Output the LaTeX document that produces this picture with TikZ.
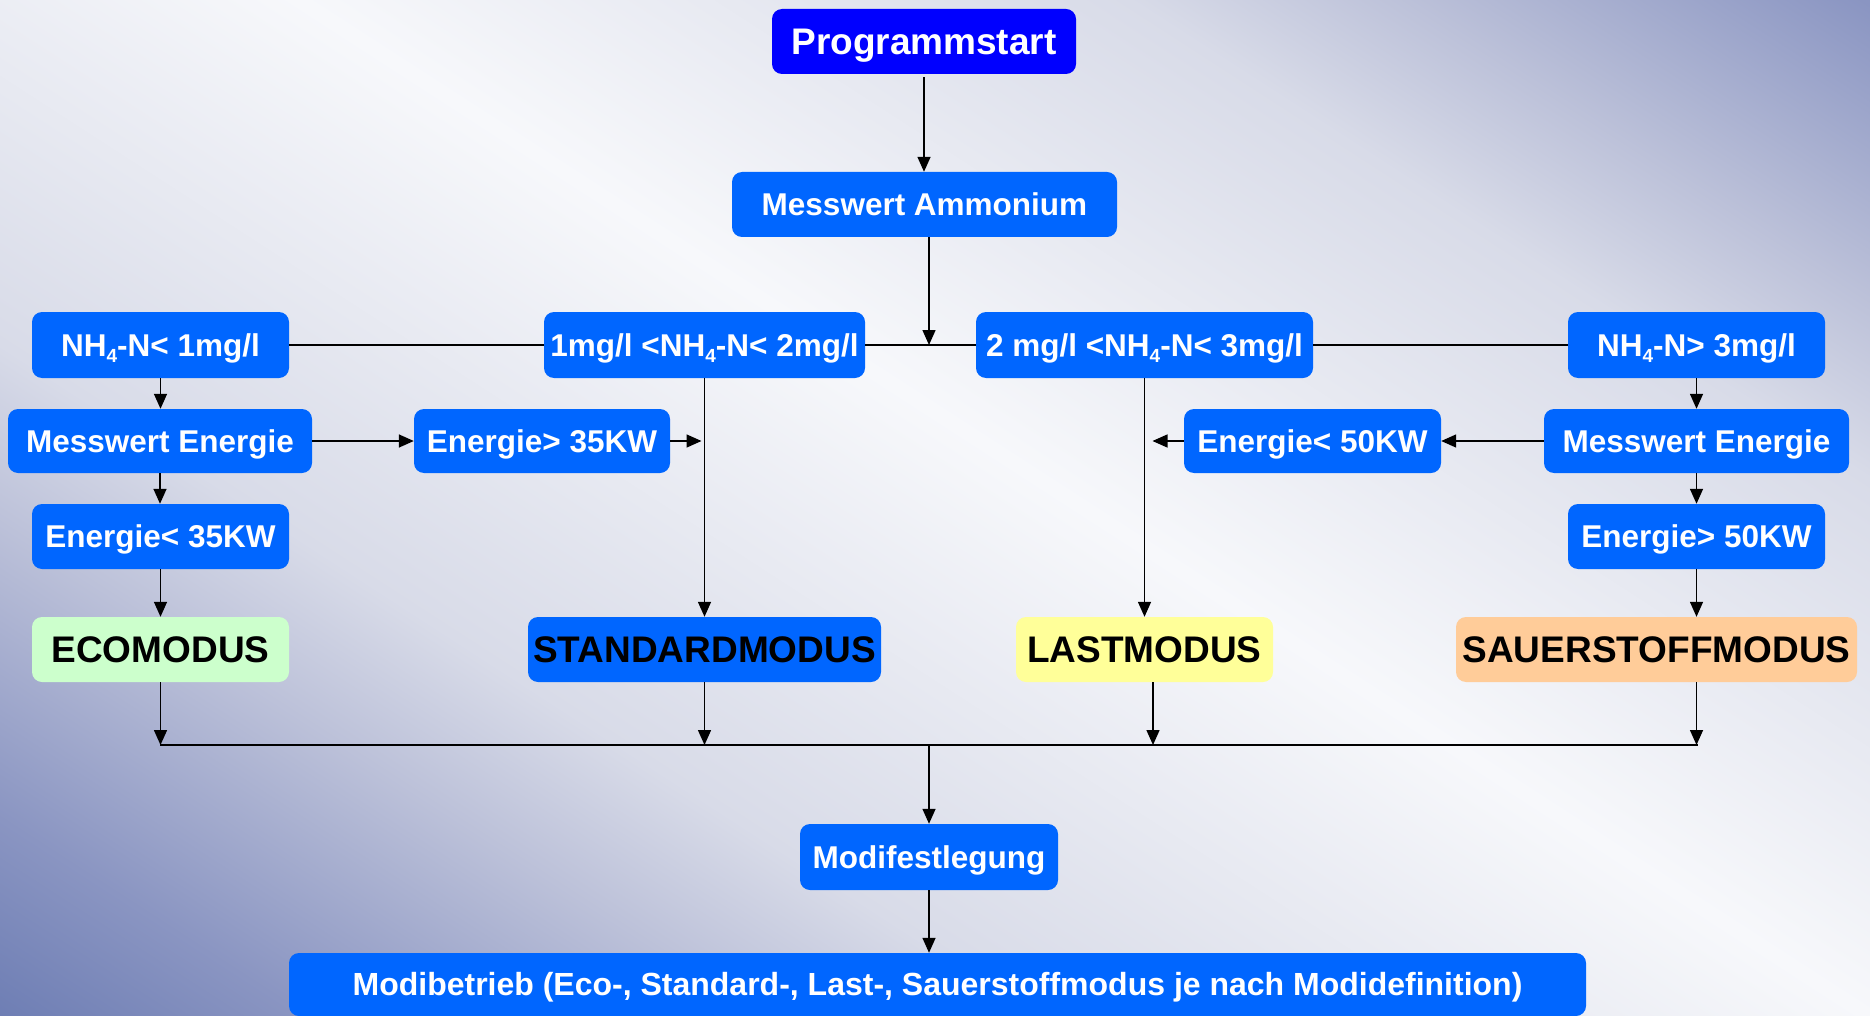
\documentclass[tikz,border=0pt]{standalone}
\usepackage{fontspec}
\setmainfont{Liberation Sans}
\usetikzlibrary{arrows.meta}

\definecolor{boxblue}{HTML}{0066FF}
\definecolor{startblue}{HTML}{0000FF}
\definecolor{ecogreen}{HTML}{CCFFCC}
\definecolor{lastyellow}{HTML}{FFFF99}
\definecolor{o2orange}{HTML}{FFCC99}
% background band colours, from the outer corners to the light middle
\definecolor{bgA}{HTML}{6E7EB4}
\definecolor{bgB}{HTML}{8A95C2}
\definecolor{bgC}{HTML}{BCC1D9}
\definecolor{bgD}{HTML}{D8DBE8}
\definecolor{bgE}{HTML}{F7F8FB}
\pgfdeclareverticalshading{bgband}{100bp}{color(0bp)=(bgA); color(25bp)=(bgA);
  color(29.1bp)=(bgB); color(35.2bp)=(bgC); color(38.9bp)=(bgD); color(50bp)=(bgE);
  color(61.1bp)=(bgD); color(64.8bp)=(bgC); color(70.9bp)=(bgB); color(75bp)=(bgA);
  color(100bp)=(bgA)}

% lowered index "4" of NH4
\newcommand\nhfour{\raisebox{-6.5pt}{\fontsize{19}{19}\selectfont 4}}

\tikzset{
  box/.style={rectangle, rounded corners=10pt, inner sep=0pt, fill=boxblue, text=white,
    font=\fontsize{31.5}{36}\selectfont\bfseries, text height=22.6pt, text depth=0pt,
    minimum height=65pt},
  startbox/.style={box, fill=startblue, font=\fontsize{37}{42}\selectfont\bfseries,
    text height=26.5pt},
  modebox/.style={box, text=black, font=\fontsize{37}{42}\selectfont\bfseries,
    text height=26.5pt},
  conn/.style={line width=1.5pt, -{Triangle[length=15pt,width=13pt]}},
  wire/.style={line width=1.6pt},
  busline/.style={line width=2.8pt},
}

\begin{document}
\begin{tikzpicture}[x=1pt, y=-1pt]
\useasboundingbox (0,0) rectangle (1870,1016);

% background: light diagonal band, bluish towards two corners
\begin{scope}
  \clip (0,0) rectangle (1870,1016);
  \begin{scope}[transform canvas={rotate around={-32.9:(979,440)}}]
    \shade[shading=bgband] (-121,-576) rectangle (2079,1456);
  \end{scope}
\end{scope}

% start and measurement
\node[startbox, minimum width=304pt, minimum height=65pt] (prog) at (924,41.5) {Programmstart};
\node[box, minimum width=385pt] (amm) at (924.5,204.5) {Messwert Ammonium};

% ammonium ranges
\node[box, minimum width=257pt, minimum height=66pt] (n1) at (160.5,345) {NH\nhfour-N< 1mg/l};
\node[box, minimum width=321pt, minimum height=66pt] (n2) at (704.5,345) {1mg/l <NH\nhfour-N< 2mg/l};
\node[box, minimum width=337pt, minimum height=66pt] (n3) at (1144.5,345) {2 mg/l <NH\nhfour-N< 3mg/l};
\node[box, minimum width=257pt, minimum height=66pt] (n4) at (1696.5,345) {NH\nhfour-N> 3mg/l};

% energy checks
\node[box, minimum width=304pt, minimum height=64pt] (me1) at (160,441) {Messwert Energie};
\node[box, minimum width=256pt, minimum height=64pt] (e35g) at (542,441) {Energie> 35KW};
\node[box, minimum width=257pt, minimum height=64pt] (e50l) at (1312.5,441) {Energie< 50KW};
\node[box, minimum width=305pt, minimum height=64pt] (me2) at (1696.5,441) {Messwert Energie};
\node[box, minimum width=257pt] (e35l) at (160.5,536.5) {Energie< 35KW};
\node[box, minimum width=257pt] (e50g) at (1696.5,536.5) {Energie> 50KW};

% operating modes
\node[modebox, fill=ecogreen, minimum width=257pt] (eco) at (160.5,649.5) {ECOMODUS};
\node[modebox, minimum width=353pt] (std) at (704.5,649.5) {STANDARDMODUS};
\node[modebox, fill=lastyellow, minimum width=257pt] (last) at (1144.5,649.5) {LASTMODUS};
\node[modebox, fill=o2orange, minimum width=401pt] (sauer) at (1656.5,649.5) {SAUERSTOFFMODUS};

% result
\node[box, minimum width=258pt, minimum height=66pt] (modf) at (929,857) {Modifestlegung};
\node[box, minimum width=1297pt, minimum height=63pt, font=\fontsize{32}{36}\selectfont\bfseries]
  (modb) at (937.5,984.5)
  {Modibetrieb (Eco-, Standard-, Last-, Sauerstoffmodus je nach Modidefinition)};

% junction points
\coordinate (split) at (929,345);
\coordinate (busL) at (160,745);
\coordinate (busR) at (1698,745);

% top part
\draw[conn, shorten <=3pt] (prog.south) -- (prog.south |- amm.north);
\draw[conn] (amm.south -| split) -- (split);
\draw[wire] (n1.east) -- (n2.west);
\draw[wire] (n2.east) -- (n3.west);
\draw[wire] (n3.east) -- (n4.west);

% left branch
\draw[conn] (n1.south) -- (n1.south |- me1.north);
\draw[conn] (me1.south) -- (me1.south |- e35l.north);
\draw[conn] (e35l.south) -- (e35l.south |- eco.north);
\draw[conn] (me1.east) -- (e35g.west);
\draw[conn, shorten >=3pt] (e35g.east) -- (e35g.east -| n2.south);
\draw[conn] (n2.south) -- (std.north);

% right branch
\draw[conn] (n3.south) -- (last.north);
\draw[conn] (n4.south) -- (n4.south |- me2.north);
\draw[conn] (me2.south) -- (me2.south |- e50g.north);
\draw[conn] (e50g.south) -- (e50g.south |- sauer.north);
\draw[conn] (me2.west) -- (e50l.east);
\draw[conn, shorten >=8pt] (e50l.west) -- (e50l.west -| n3.south);

% collecting bus
\draw[conn] (eco.south) -- (eco.south |- busL);
\draw[conn] (std.south) -- (std.south |- busL);
\draw[conn] ([xshift=8.5pt]last.south) -- ([xshift=8.5pt]last.south |- busL);
\draw[conn] (e50g.south |- sauer.south) -- (e50g.south |- busL);
\draw[busline] (busL) -- (busR);
\draw[conn] (modf.north |- busL) -- (modf.north);
\draw[conn] (modf.south) -- (modf.south |- modb.north);
\end{tikzpicture}
\end{document}
